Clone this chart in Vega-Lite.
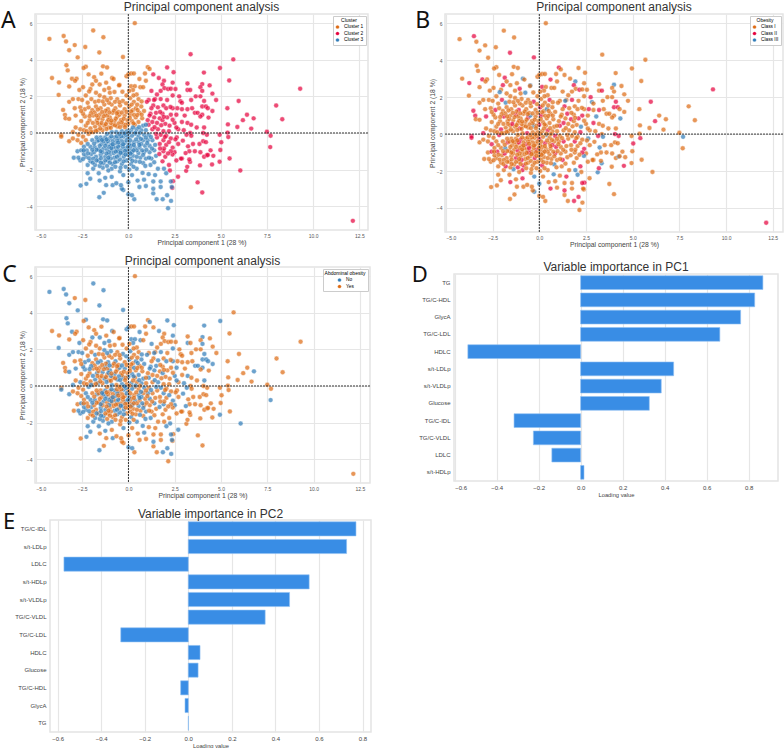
{"$schema":"https://vega.github.io/schema/vega-lite/v6.json","padding":{"left":0,"right":0,"top":0,"bottom":0},"background":"white","config":{"font":"Liberation Sans","style":{"guide-label":{"fontSize":4.8}},"legend":{"labelFontSize":4.8},"view":{"stroke":"#e4e4e4","strokeWidth":1.5},"title":{"font":"Liberation Sans","fontWeight":"normal","color":"#333333","offset":1},"axis":{"domain":false,"ticks":false,"grid":true,"gridColor":"#e6e6e6","gridWidth":1.2,"labelColor":"#555555","titleColor":"#444444","titleFontWeight":"normal","labelFont":"Liberation Sans","titleFont":"Liberation Sans"}},
"datasets":{"pts":[
{"x":0.35,"y":6.0,"c":1,"o":"I","a":"Y"},{"x":-4.27,"y":5.14,"c":1,"o":"I","a":"N"},{"x":-3.5,"y":5.3,"c":1,"o":"II","a":"N"},{"x":-3.37,"y":5.0,"c":1,"o":"I","a":"N"},{"x":-1.9,"y":5.6,"c":1,"o":"I","a":"N"},{"x":-1.35,"y":5.23,"c":1,"o":"I","a":"N"},{"x":-2.9,"y":4.8,"c":1,"o":"I","a":"Y"},{"x":-2.33,"y":4.7,"c":1,"o":"I","a":"Y"},{"x":-3.2,"y":4.52,"c":1,"o":"I","a":"N"},{"x":-1.57,"y":4.4,"c":1,"o":"II","a":"N"},{"x":-2.74,"y":4.13,"c":1,"o":"I","a":"N"},{"x":-0.29,"y":4.15,"c":1,"o":"II","a":"N"},{"x":-3.35,"y":3.7,"c":1,"o":"I","a":"N"},{"x":-3.28,"y":3.42,"c":1,"o":"I","a":"N"},{"x":-2.3,"y":3.62,"c":1,"o":"I","a":"N"},{"x":-2.42,"y":3.55,"c":1,"o":"I","a":"Y"},{"x":-4.13,"y":3.0,"c":1,"o":"I","a":"Y"},{"x":-3.75,"y":2.76,"c":1,"o":"II","a":"Y"},{"x":-3.77,"y":2.08,"c":1,"o":"I","a":"N"},{"x":-3.05,"y":2.96,"c":1,"o":"II","a":"N"},{"x":-2.8,"y":2.96,"c":1,"o":"I","a":"Y"},{"x":-2.88,"y":2.85,"c":1,"o":"I","a":"Y"},{"x":-3.2,"y":2.54,"c":1,"o":"I","a":"Y"},{"x":-1.37,"y":3.64,"c":1,"o":"I","a":"N"},{"x":-1.15,"y":3.58,"c":1,"o":"I","a":"N"},{"x":-1.46,"y":3.24,"c":1,"o":"I","a":"Y"},{"x":-3.53,"y":1.26,"c":1,"o":"II","a":"Y"},{"x":-3.43,"y":0.99,"c":1,"o":"II","a":"Y"},{"x":-3.4,"y":0.8,"c":1,"o":"I","a":"Y"},{"x":-3.2,"y":0.77,"c":1,"o":"I","a":"N"},{"x":-3.63,"y":-0.11,"c":1,"o":"II","a":"Y"},{"x":-3.63,"y":-0.2,"c":1,"o":"II","a":"N"},
{"x":-2.15,"y":3.2,"c":1,"o":"I","a":"Y"},{"x":-1.85,"y":3.05,"c":1,"o":"II","a":"Y"},{"x":-1.75,"y":2.85,"c":1,"o":"I","a":"Y"},{"x":-0.88,"y":3.0,"c":1,"o":"III","a":"N"},{"x":-0.8,"y":2.95,"c":1,"o":"I","a":"Y"},{"x":-1.55,"y":2.65,"c":1,"o":"I","a":"N"},{"x":-1.95,"y":2.65,"c":1,"o":"II","a":"N"},{"x":-2.05,"y":2.4,"c":1,"o":"I","a":"Y"},{"x":-2.12,"y":2.27,"c":1,"o":"III","a":"Y"},{"x":-2.45,"y":2.5,"c":1,"o":"I","a":"Y"},{"x":-2.65,"y":2.35,"c":1,"o":"I","a":"N"},{"x":-1.2,"y":2.75,"c":1,"o":"I","a":"Y"},{"x":-1.05,"y":2.45,"c":1,"o":"II","a":"N"},{"x":-1.0,"y":2.2,"c":1,"o":"I","a":"Y"},{"x":-1.3,"y":2.35,"c":1,"o":"I","a":"N"},{"x":-0.48,"y":2.63,"c":1,"o":"III","a":"Y"},{"x":-0.5,"y":2.6,"c":1,"o":"I","a":"Y"},{"x":-0.1,"y":3.1,"c":1,"o":"I","a":"N"},{"x":0.0,"y":3.2,"c":1,"o":"I","a":"N"},{"x":0.15,"y":3.25,"c":1,"o":"I","a":"Y"},{"x":0.3,"y":3.25,"c":1,"o":"I","a":"Y"},{"x":0.15,"y":2.55,"c":1,"o":"II","a":"N"},{"x":0.35,"y":2.55,"c":1,"o":"I","a":"N"},{"x":0.25,"y":2.35,"c":1,"o":"I","a":"N"},{"x":0.05,"y":2.3,"c":1,"o":"I","a":"Y"},{"x":0.65,"y":2.5,"c":1,"o":"I","a":"N"},{"x":0.8,"y":2.5,"c":1,"o":"I","a":"Y"},{"x":0.6,"y":2.95,"c":1,"o":"II","a":"N"},{"x":0.9,"y":3.25,"c":1,"o":"I","a":"Y"},{"x":1.05,"y":3.6,"c":1,"o":"II","a":"Y"},{"x":1.15,"y":3.5,"c":1,"o":"I","a":"N"},{"x":0.95,"y":2.85,"c":1,"o":"I","a":"Y"},
{"x":-3.2,"y":1.7,"c":1,"o":"I","a":"N"},{"x":-3.0,"y":1.85,"c":1,"o":"I","a":"N"},{"x":-2.7,"y":1.85,"c":1,"o":"I","a":"N"},{"x":-2.5,"y":1.8,"c":1,"o":"I","a":"N"},{"x":-2.3,"y":2.05,"c":1,"o":"I","a":"Y"},{"x":-2.0,"y":1.85,"c":1,"o":"II","a":"Y"},{"x":-1.8,"y":1.7,"c":1,"o":"III","a":"N"},{"x":-1.55,"y":2.05,"c":1,"o":"I","a":"Y"},{"x":-1.3,"y":1.95,"c":1,"o":"I","a":"N"},{"x":-0.75,"y":2.24,"c":1,"o":"III","a":"Y"},{"x":-0.6,"y":1.85,"c":1,"o":"I","a":"Y"},{"x":-0.3,"y":1.75,"c":1,"o":"II","a":"N"},{"x":-0.1,"y":2.05,"c":1,"o":"I","a":"Y"},{"x":0.1,"y":1.9,"c":1,"o":"I","a":"N"},{"x":0.3,"y":1.7,"c":1,"o":"I","a":"Y"},{"x":0.55,"y":1.85,"c":1,"o":"II","a":"Y"},{"x":0.7,"y":1.45,"c":1,"o":"I","a":"N"},{"x":-2.9,"y":1.35,"c":1,"o":"I","a":"Y"},{"x":-2.6,"y":1.4,"c":1,"o":"I","a":"Y"},{"x":-2.35,"y":1.3,"c":1,"o":"II","a":"N"},{"x":-2.15,"y":1.4,"c":1,"o":"I","a":"N"},{"x":-1.95,"y":1.25,"c":1,"o":"I","a":"Y"},{"x":-1.75,"y":1.45,"c":1,"o":"I","a":"Y"},{"x":-1.5,"y":1.35,"c":1,"o":"I","a":"N"},{"x":-1.3,"y":1.55,"c":1,"o":"I","a":"Y"},{"x":-1.1,"y":1.3,"c":1,"o":"II","a":"N"},{"x":-0.9,"y":1.55,"c":1,"o":"I","a":"Y"},{"x":-0.7,"y":1.35,"c":1,"o":"I","a":"N"},{"x":-0.45,"y":1.5,"c":1,"o":"I","a":"Y"},{"x":-0.2,"y":1.3,"c":1,"o":"I","a":"Y"},{"x":0.05,"y":1.45,"c":1,"o":"II","a":"N"},{"x":0.25,"y":1.25,"c":1,"o":"I","a":"Y"},{"x":0.41,"y":1.36,"c":1,"o":"III","a":"N"},{"x":0.6,"y":1.1,"c":1,"o":"I","a":"Y"},{"x":0.85,"y":1.2,"c":1,"o":"I","a":"N"},
{"x":-2.85,"y":0.95,"c":1,"o":"II","a":"N"},{"x":-2.55,"y":0.65,"c":1,"o":"I","a":"Y"},{"x":-2.35,"y":0.9,"c":1,"o":"I","a":"N"},{"x":-2.1,"y":0.7,"c":1,"o":"I","a":"Y"},{"x":-1.9,"y":0.95,"c":1,"o":"II","a":"Y"},{"x":-1.7,"y":0.7,"c":1,"o":"I","a":"N"},{"x":-1.55,"y":1.0,"c":1,"o":"I","a":"Y"},{"x":-1.4,"y":0.75,"c":1,"o":"I","a":"N"},{"x":-1.25,"y":1.05,"c":1,"o":"II","a":"N"},{"x":-1.15,"y":0.6,"c":1,"o":"I","a":"Y"},{"x":-1.0,"y":0.85,"c":1,"o":"I","a":"N"},{"x":-0.85,"y":1.1,"c":1,"o":"I","a":"Y"},{"x":-0.75,"y":0.65,"c":1,"o":"I","a":"N"},{"x":-0.6,"y":0.9,"c":1,"o":"II","a":"Y"},{"x":-0.48,"y":1.0,"c":1,"o":"III","a":"N"},{"x":-0.4,"y":0.7,"c":1,"o":"I","a":"Y"},{"x":-0.3,"y":0.45,"c":1,"o":"III","a":"N"},{"x":-0.2,"y":0.95,"c":1,"o":"I","a":"N"},{"x":-0.05,"y":0.7,"c":1,"o":"I","a":"Y"},{"x":0.1,"y":1.0,"c":1,"o":"II","a":"Y"},{"x":0.2,"y":0.65,"c":1,"o":"I","a":"N"},{"x":0.4,"y":0.85,"c":1,"o":"I","a":"Y"},{"x":0.55,"y":0.6,"c":1,"o":"I","a":"N"},{"x":0.75,"y":0.8,"c":1,"o":"I","a":"Y"},{"x":-1.3,"y":0.4,"c":1,"o":"I","a":"N"},{"x":-1.05,"y":0.3,"c":1,"o":"II","a":"Y"},{"x":-0.85,"y":0.45,"c":1,"o":"I","a":"Y"},{"x":-0.6,"y":0.35,"c":1,"o":"I","a":"N"},{"x":-1.55,"y":0.45,"c":1,"o":"I","a":"Y"},{"x":-1.8,"y":0.35,"c":1,"o":"I","a":"N"},{"x":-2.05,"y":0.25,"c":1,"o":"II","a":"Y"},{"x":-2.3,"y":0.4,"c":1,"o":"I","a":"Y"},{"x":-2.6,"y":0.2,"c":1,"o":"I","a":"N"},{"x":-2.85,"y":0.3,"c":1,"o":"I","a":"Y"},{"x":-3.0,"y":0.05,"c":1,"o":"II","a":"N"},{"x":-2.7,"y":-0.1,"c":1,"o":"I","a":"Y"},{"x":-2.45,"y":-0.2,"c":1,"o":"I","a":"Y"},{"x":-2.15,"y":-0.05,"c":1,"o":"II","a":"N"},{"x":-1.9,"y":0.05,"c":1,"o":"I","a":"Y"},{"x":-1.65,"y":0.15,"c":1,"o":"I","a":"N"},{"x":-1.4,"y":0.15,"c":1,"o":"I","a":"Y"},{"x":-3.2,"y":-0.45,"c":1,"o":"I","a":"N"},{"x":-3.0,"y":-0.3,"c":1,"o":"I","a":"Y"},{"x":-2.75,"y":-0.4,"c":1,"o":"I","a":"Y"},{"x":-2.55,"y":-0.55,"c":1,"o":"II","a":"Y"},{"x":-2.3,"y":-0.4,"c":1,"o":"I","a":"N"},{"x":-0.35,"y":0.6,"c":1,"o":"I","a":"Y"},{"x":0.0,"y":0.5,"c":1,"o":"II","a":"N"},{"x":-1.6,"y":1.75,"c":1,"o":"I","a":"Y"},{"x":-2.2,"y":1.65,"c":1,"o":"I","a":"Y"},{"x":-0.95,"y":1.9,"c":1,"o":"I","a":"N"},{"x":0.45,"y":2.1,"c":1,"o":"I","a":"Y"},{"x":-2.45,"y":1.05,"c":1,"o":"I","a":"N"},{"x":-1.05,"y":1.65,"c":1,"o":"I","a":"Y"},{"x":-0.55,"y":1.15,"c":1,"o":"I","a":"Y"},{"x":0.3,"y":1.0,"c":1,"o":"I","a":"N"},{"x":-1.75,"y":2.2,"c":1,"o":"I","a":"Y"},{"x":-1.45,"y":0.55,"c":1,"o":"II","a":"Y"},{"x":-1.15,"y":0.95,"c":1,"o":"I","a":"Y"},{"x":-0.95,"y":0.55,"c":1,"o":"I","a":"N"},{"x":-0.15,"y":0.45,"c":1,"o":"I","a":"Y"},{"x":0.35,"y":0.45,"c":1,"o":"I","a":"Y"},
{"x":12.15,"y":-4.8,"c":2,"o":"II","a":"Y"},{"x":9.3,"y":2.42,"c":2,"o":"II","a":"Y"},{"x":8.0,"y":1.5,"c":2,"o":"I","a":"Y"},{"x":8.33,"y":0.75,"c":2,"o":"I","a":"Y"},{"x":7.5,"y":0.07,"c":2,"o":"I","a":"Y"},{"x":7.7,"y":-0.15,"c":2,"o":"III","a":"Y"},{"x":7.68,"y":-0.77,"c":2,"o":"I","a":"N"},{"x":6.65,"y":0.24,"c":2,"o":"I","a":"Y"},{"x":6.78,"y":0.8,"c":2,"o":"I","a":"N"},{"x":6.42,"y":1.0,"c":2,"o":"I","a":"Y"},{"x":6.2,"y":0.7,"c":2,"o":"II","a":"Y"},{"x":5.97,"y":1.75,"c":2,"o":"II","a":"Y"},{"x":5.9,"y":0.33,"c":2,"o":"I","a":"Y"},{"x":6.06,"y":-2.05,"c":2,"o":"I","a":"N"},{"x":5.68,"y":4.02,"c":2,"o":"I","a":"Y"},{"x":5.46,"y":2.87,"c":2,"o":"I","a":"Y"},{"x":4.96,"y":3.55,"c":2,"o":"I","a":"N"},{"x":3.37,"y":4.3,"c":2,"o":"I","a":"Y"},{"x":4.09,"y":3.3,"c":2,"o":"I","a":"N"},{"x":4.0,"y":2.67,"c":2,"o":"III","a":"N"},{"x":5.36,"y":1.35,"c":2,"o":"I","a":"Y"},{"x":5.39,"y":0.47,"c":2,"o":"I","a":"Y"},{"x":5.37,"y":0.02,"c":2,"o":"I","a":"Y"},{"x":5.41,"y":-0.22,"c":2,"o":"II","a":"Y"},{"x":4.94,"y":-0.1,"c":2,"o":"I","a":"Y"},{"x":5.03,"y":-0.51,"c":2,"o":"II","a":"Y"},{"x":4.98,"y":-0.93,"c":2,"o":"I","a":"Y"},{"x":5.48,"y":-1.39,"c":2,"o":"I","a":"Y"},{"x":4.94,"y":-1.57,"c":2,"o":"I","a":"N"},{"x":4.53,"y":-1.72,"c":2,"o":"II","a":"Y"},{"x":3.88,"y":-1.77,"c":2,"o":"I","a":"Y"},{"x":4.0,"y":-3.25,"c":2,"o":"I","a":"Y"},{"x":3.75,"y":-2.7,"c":2,"o":"I","a":"Y"},{"x":2.42,"y":-2.63,"c":2,"o":"II","a":"Y"},{"x":2.38,"y":-3.0,"c":2,"o":"I","a":"Y"},{"x":2.69,"y":-2.39,"c":2,"o":"I","a":"N"},{"x":3.13,"y":-2.07,"c":2,"o":"III","a":"Y"},{"x":3.19,"y":-1.85,"c":2,"o":"II","a":"Y"},
{"x":1.35,"y":3.2,"c":2,"o":"I","a":"Y"},{"x":1.65,"y":3.0,"c":2,"o":"I","a":"N"},{"x":2.1,"y":3.58,"c":2,"o":"I","a":"N"},{"x":2.45,"y":3.32,"c":2,"o":"I","a":"N"},{"x":2.4,"y":2.75,"c":2,"o":"I","a":"N"},{"x":1.93,"y":2.85,"c":2,"o":"III","a":"Y"},{"x":1.85,"y":2.65,"c":2,"o":"II","a":"Y"},{"x":1.95,"y":2.45,"c":2,"o":"I","a":"Y"},{"x":1.75,"y":2.3,"c":2,"o":"I","a":"Y"},{"x":2.15,"y":2.4,"c":2,"o":"II","a":"Y"},{"x":2.3,"y":2.42,"c":2,"o":"I","a":"Y"},{"x":2.55,"y":2.4,"c":2,"o":"I","a":"Y"},{"x":2.4,"y":2.05,"c":2,"o":"I","a":"N"},{"x":3.2,"y":2.7,"c":2,"o":"I","a":"Y"},{"x":3.2,"y":2.35,"c":2,"o":"I","a":"N"},{"x":3.35,"y":2.35,"c":2,"o":"II","a":"Y"},{"x":3.9,"y":2.5,"c":2,"o":"I","a":"Y"},{"x":4.4,"y":2.6,"c":2,"o":"I","a":"Y"},{"x":4.55,"y":2.15,"c":2,"o":"I","a":"Y"},{"x":4.0,"y":2.3,"c":2,"o":"I","a":"N"},{"x":3.65,"y":2.0,"c":2,"o":"I","a":"Y"},{"x":3.4,"y":1.8,"c":2,"o":"I","a":"Y"},{"x":3.9,"y":2.0,"c":2,"o":"I","a":"Y"},{"x":4.75,"y":1.8,"c":2,"o":"I","a":"Y"},{"x":4.1,"y":1.75,"c":2,"o":"II","a":"N"},{"x":4.0,"y":1.45,"c":2,"o":"II","a":"N"},{"x":4.2,"y":1.45,"c":2,"o":"II","a":"N"},{"x":4.3,"y":1.35,"c":2,"o":"I","a":"N"},{"x":4.55,"y":1.2,"c":2,"o":"I","a":"N"},{"x":3.6,"y":1.1,"c":2,"o":"I","a":"N"},{"x":3.75,"y":1.1,"c":2,"o":"I","a":"N"},{"x":3.2,"y":1.3,"c":2,"o":"II","a":"Y"},{"x":3.45,"y":1.35,"c":2,"o":"I","a":"Y"},{"x":2.9,"y":1.3,"c":2,"o":"I","a":"Y"},{"x":2.65,"y":1.35,"c":2,"o":"II","a":"Y"},{"x":2.4,"y":1.35,"c":2,"o":"I","a":"N"},{"x":2.82,"y":1.73,"c":2,"o":"III","a":"Y"},{"x":2.9,"y":1.65,"c":2,"o":"I","a":"Y"},{"x":2.1,"y":1.8,"c":2,"o":"I","a":"Y"},{"x":1.75,"y":1.85,"c":2,"o":"II","a":"N"},{"x":1.45,"y":1.85,"c":2,"o":"I","a":"Y"},{"x":1.39,"y":1.8,"c":2,"o":"III","a":"N"},{"x":1.1,"y":1.8,"c":2,"o":"I","a":"Y"},{"x":1.0,"y":1.7,"c":2,"o":"I","a":"N"},{"x":1.35,"y":1.5,"c":2,"o":"II","a":"Y"},{"x":1.6,"y":1.4,"c":2,"o":"I","a":"N"},{"x":1.9,"y":1.5,"c":2,"o":"I","a":"Y"},{"x":2.3,"y":1.0,"c":2,"o":"II","a":"Y"},{"x":2.6,"y":1.0,"c":2,"o":"I","a":"N"},{"x":3.05,"y":0.95,"c":2,"o":"III","a":"Y"},{"x":3.2,"y":0.55,"c":2,"o":"I","a":"N"},{"x":3.4,"y":0.45,"c":2,"o":"I","a":"Y"},{"x":3.7,"y":0.3,"c":2,"o":"I","a":"Y"},{"x":4.1,"y":0.3,"c":2,"o":"I","a":"N"},{"x":4.34,"y":0.84,"c":2,"o":"III","a":"Y"},{"x":4.0,"y":1.0,"c":2,"o":"I","a":"N"},{"x":3.9,"y":0.9,"c":2,"o":"I","a":"Y"},{"x":2.9,"y":0.6,"c":2,"o":"II","a":"Y"},{"x":2.5,"y":0.55,"c":2,"o":"I","a":"N"},{"x":2.23,"y":0.4,"c":2,"o":"III","a":"Y"},{"x":2.0,"y":0.5,"c":2,"o":"I","a":"Y"},{"x":1.7,"y":0.8,"c":2,"o":"II","a":"Y"},{"x":1.4,"y":0.85,"c":2,"o":"I","a":"N"},{"x":1.05,"y":0.7,"c":2,"o":"I","a":"Y"},{"x":1.1,"y":0.45,"c":2,"o":"II","a":"N"},{"x":1.3,"y":0.2,"c":2,"o":"I","a":"Y"},{"x":1.6,"y":0.2,"c":2,"o":"I","a":"N"},{"x":1.9,"y":0.1,"c":2,"o":"I","a":"Y"},{"x":2.2,"y":0.1,"c":2,"o":"II","a":"Y"},{"x":2.7,"y":0.2,"c":2,"o":"I","a":"Y"},{"x":3.0,"y":0.15,"c":2,"o":"I","a":"N"},{"x":3.35,"y":0.0,"c":2,"o":"I","a":"Y"},{"x":3.41,"y":-0.15,"c":2,"o":"III","a":"Y"},{"x":3.15,"y":-0.1,"c":2,"o":"II","a":"N"},{"x":2.62,"y":-0.24,"c":2,"o":"III","a":"Y"},{"x":2.3,"y":-0.3,"c":2,"o":"I","a":"Y"},{"x":1.9,"y":-0.4,"c":2,"o":"II","a":"N"},{"x":1.7,"y":-0.6,"c":2,"o":"I","a":"Y"},{"x":2.05,"y":-0.65,"c":2,"o":"I","a":"Y"},{"x":2.4,"y":-0.8,"c":2,"o":"II","a":"N"},{"x":2.7,"y":-0.6,"c":2,"o":"I","a":"Y"},{"x":3.23,"y":-0.73,"c":2,"o":"III","a":"Y"},{"x":3.5,"y":-0.6,"c":2,"o":"I","a":"Y"},{"x":3.85,"y":-0.6,"c":2,"o":"I","a":"Y"},{"x":4.05,"y":-0.45,"c":2,"o":"I","a":"Y"},{"x":4.2,"y":-0.5,"c":2,"o":"I","a":"Y"},{"x":4.25,"y":-0.1,"c":2,"o":"II","a":"Y"},{"x":4.05,"y":0.0,"c":2,"o":"II","a":"Y"},{"x":3.6,"y":-1.0,"c":2,"o":"I","a":"Y"},{"x":3.3,"y":-1.0,"c":2,"o":"I","a":"Y"},{"x":3.1,"y":-1.1,"c":2,"o":"I","a":"N"},{"x":2.9,"y":-1.4,"c":2,"o":"I","a":"Y"},{"x":2.85,"y":-1.4,"c":2,"o":"I","a":"Y"},{"x":2.5,"y":-1.05,"c":2,"o":"I","a":"N"},{"x":2.39,"y":-1.18,"c":2,"o":"III","a":"Y"},{"x":2.0,"y":-1.3,"c":2,"o":"I","a":"Y"},{"x":1.9,"y":-1.0,"c":2,"o":"I","a":"N"},{"x":2.6,"y":-1.5,"c":2,"o":"I","a":"Y"},{"x":3.34,"y":-1.58,"c":2,"o":"III","a":"Y"},{"x":3.3,"y":-1.45,"c":2,"o":"I","a":"Y"},{"x":3.9,"y":-1.05,"c":2,"o":"I","a":"Y"},{"x":4.1,"y":-1.3,"c":2,"o":"I","a":"Y"},{"x":4.25,"y":-1.22,"c":2,"o":"III","a":"Y"},{"x":4.3,"y":-1.2,"c":2,"o":"I","a":"Y"},{"x":4.45,"y":-0.95,"c":2,"o":"I","a":"Y"},{"x":4.6,"y":-1.25,"c":2,"o":"I","a":"Y"},{"x":2.2,"y":-1.75,"c":2,"o":"II","a":"Y"},{"x":2.25,"y":-2.05,"c":2,"o":"I","a":"N"},{"x":1.5,"y":1.1,"c":2,"o":"II","a":"N"},{"x":1.2,"y":1.05,"c":2,"o":"I","a":"N"},{"x":1.85,"y":1.05,"c":2,"o":"I","a":"Y"},{"x":2.1,"y":0.85,"c":2,"o":"II","a":"Y"},{"x":1.55,"y":0.55,"c":2,"o":"I","a":"Y"},{"x":1.85,"y":0.7,"c":2,"o":"I","a":"N"},{"x":1.3,"y":0.6,"c":2,"o":"II","a":"Y"},{"x":1.75,"y":-0.1,"c":2,"o":"I","a":"N"},{"x":2.05,"y":-0.15,"c":2,"o":"I","a":"Y"},{"x":1.55,"y":-0.25,"c":2,"o":"I","a":"Y"},{"x":2.3,"y":-1.0,"c":2,"o":"II","a":"Y"},{"x":1.93,"y":-0.85,"c":2,"o":"I","a":"Y"},{"x":2.2,"y":-0.5,"c":2,"o":"I","a":"N"},{"x":2.05,"y":1.35,"c":2,"o":"I","a":"N"},{"x":1.55,"y":2.1,"c":2,"o":"I","a":"Y"},{"x":1.25,"y":2.3,"c":2,"o":"I","a":"N"},{"x":2.75,"y":2.0,"c":2,"o":"II","a":"Y"},{"x":2.6,"y":0.3,"c":2,"o":"I","a":"N"},{"x":1.85,"y":-1.55,"c":2,"o":"I","a":"Y"},
{"x":2.15,"y":-4.11,"c":3,"o":"I","a":"Y"},{"x":2.31,"y":-3.71,"c":3,"o":"I","a":"N"},{"x":1.86,"y":-3.62,"c":3,"o":"II","a":"N"},{"x":1.53,"y":-3.62,"c":3,"o":"I","a":"Y"},{"x":0.32,"y":-3.62,"c":3,"o":"I","a":"Y"},{"x":-1.57,"y":-3.51,"c":3,"o":"I","a":"N"},{"x":-1.33,"y":-3.27,"c":3,"o":"I","a":"Y"},{"x":-2.58,"y":-2.87,"c":3,"o":"I","a":"Y"},{"x":-2.27,"y":-2.78,"c":3,"o":"I","a":"N"},{"x":-2.06,"y":-2.5,"c":3,"o":"I","a":"N"},{"x":0.0,"y":-3.35,"c":3,"o":"I","a":"N"},{"x":0.2,"y":-3.4,"c":3,"o":"I","a":"N"},{"x":-0.27,"y":-3.12,"c":3,"o":"III","a":"Y"},{"x":-0.35,"y":-3.05,"c":3,"o":"I","a":"Y"},{"x":1.35,"y":-3.3,"c":3,"o":"I","a":"Y"},{"x":1.35,"y":-3.05,"c":3,"o":"II","a":"N"},{"x":2.1,"y":-3.4,"c":3,"o":"II","a":"N"},{"x":2.35,"y":-2.95,"c":3,"o":"I","a":"N"},{"x":1.75,"y":-2.95,"c":3,"o":"I","a":"Y"},{"x":0.6,"y":-2.95,"c":3,"o":"II","a":"Y"},{"x":0.95,"y":-2.9,"c":3,"o":"I","a":"Y"},{"x":-0.4,"y":-2.85,"c":3,"o":"I","a":"Y"},{"x":-0.85,"y":-2.85,"c":3,"o":"I","a":"N"},{"x":-1.2,"y":-2.85,"c":3,"o":"I","a":"Y"},{"x":-1.55,"y":-2.6,"c":3,"o":"II","a":"Y"},{"x":-1.25,"y":-2.45,"c":3,"o":"I","a":"N"},{"x":-0.65,"y":-2.75,"c":3,"o":"I","a":"Y"},{"x":0.0,"y":-2.69,"c":3,"o":"III","a":"Y"},{"x":0.5,"y":-2.6,"c":3,"o":"I","a":"Y"},{"x":0.85,"y":-2.55,"c":3,"o":"I","a":"N"},{"x":1.35,"y":-2.65,"c":3,"o":"I","a":"Y"},{"x":1.75,"y":-2.65,"c":3,"o":"I","a":"Y"},{"x":2.3,"y":-2.65,"c":3,"o":"II","a":"N"},{"x":-0.27,"y":-2.3,"c":3,"o":"III","a":"N"},{"x":-1.6,"y":-2.2,"c":3,"o":"I","a":"N"},{"x":-2.2,"y":-2.2,"c":3,"o":"I","a":"N"},{"x":-0.9,"y":-2.4,"c":3,"o":"II","a":"Y"},{"x":0.2,"y":-2.3,"c":3,"o":"I","a":"Y"},{"x":0.77,"y":-2.18,"c":3,"o":"III","a":"N"},{"x":1.1,"y":-2.25,"c":3,"o":"I","a":"Y"},{"x":1.45,"y":-2.3,"c":3,"o":"II","a":"Y"},{"x":1.93,"y":-1.95,"c":3,"o":"III","a":"Y"},{"x":2.05,"y":-2.2,"c":3,"o":"III","a":"N"},{"x":1.6,"y":-1.95,"c":3,"o":"I","a":"Y"},{"x":1.2,"y":-1.75,"c":3,"o":"I","a":"N"},{"x":0.8,"y":-1.64,"c":3,"o":"III","a":"Y"},{"x":0.45,"y":-1.95,"c":3,"o":"I","a":"N"},{"x":0.05,"y":-2.0,"c":3,"o":"I","a":"N"},{"x":-0.45,"y":-2.1,"c":3,"o":"I","a":"Y"},{"x":-0.9,"y":-1.95,"c":3,"o":"II","a":"N"},{"x":-1.38,"y":-1.9,"c":3,"o":"III","a":"N"},{"x":-1.9,"y":-1.95,"c":3,"o":"I","a":"N"},{"x":-2.2,"y":-1.75,"c":3,"o":"I","a":"Y"},{"x":-2.6,"y":-1.5,"c":3,"o":"I","a":"N"},{"x":-2.95,"y":-1.35,"c":3,"o":"I","a":"Y"},{"x":-2.7,"y":-1.35,"c":3,"o":"I","a":"N"},{"x":-2.75,"y":-1.0,"c":3,"o":"I","a":"Y"},{"x":-2.55,"y":-0.95,"c":3,"o":"II","a":"N"},{"x":-2.3,"y":-1.3,"c":3,"o":"I","a":"N"},{"x":-2.05,"y":-1.55,"c":3,"o":"I","a":"Y"},{"x":-1.8,"y":-1.75,"c":3,"o":"II","a":"N"},{"x":-1.6,"y":-1.5,"c":3,"o":"I","a":"Y"},{"x":-1.35,"y":-1.65,"c":3,"o":"I","a":"N"},{"x":-1.1,"y":-1.5,"c":3,"o":"I","a":"Y"},{"x":-0.85,"y":-1.7,"c":3,"o":"II","a":"Y"},{"x":-0.6,"y":-1.55,"c":3,"o":"I","a":"N"},{"x":-0.35,"y":-1.7,"c":3,"o":"I","a":"Y"},{"x":-0.1,"y":-1.5,"c":3,"o":"I","a":"Y"},{"x":0.15,"y":-1.7,"c":3,"o":"II","a":"N"},{"x":0.4,"y":-1.55,"c":3,"o":"I","a":"Y"},{"x":0.65,"y":-1.35,"c":3,"o":"I","a":"Y"},{"x":0.95,"y":-1.4,"c":3,"o":"I","a":"N"},{"x":1.25,"y":-1.4,"c":3,"o":"II","a":"Y"},{"x":1.5,"y":-1.25,"c":3,"o":"I","a":"Y"},{"x":1.4,"y":-0.95,"c":3,"o":"I","a":"N"},{"x":1.15,"y":-1.05,"c":3,"o":"I","a":"Y"},{"x":0.85,"y":-1.05,"c":3,"o":"II","a":"Y"},{"x":0.55,"y":-1.1,"c":3,"o":"I","a":"N"},{"x":0.25,"y":-1.25,"c":3,"o":"I","a":"Y"},{"x":0.0,"y":-1.2,"c":3,"o":"I","a":"Y"},{"x":-0.25,"y":-1.3,"c":3,"o":"II","a":"N"},{"x":-0.5,"y":-1.2,"c":3,"o":"I","a":"Y"},{"x":-0.75,"y":-1.35,"c":3,"o":"I","a":"N"},{"x":-1.0,"y":-1.2,"c":3,"o":"I","a":"Y"},{"x":-1.25,"y":-1.3,"c":3,"o":"II","a":"N"},{"x":-1.5,"y":-1.2,"c":3,"o":"I","a":"N"},{"x":-1.75,"y":-1.3,"c":3,"o":"I","a":"Y"},{"x":-2.0,"y":-1.15,"c":3,"o":"I","a":"N"},{"x":-2.25,"y":-0.95,"c":3,"o":"II","a":"Y"},{"x":-2.05,"y":-0.75,"c":3,"o":"I","a":"N"},{"x":-1.82,"y":-0.76,"c":3,"o":"III","a":"N"},{"x":-1.6,"y":-0.9,"c":3,"o":"I","a":"Y"},{"x":-1.35,"y":-0.85,"c":3,"o":"I","a":"N"},{"x":-1.15,"y":-0.9,"c":3,"o":"II","a":"Y"},{"x":-0.9,"y":-0.95,"c":3,"o":"I","a":"Y"},{"x":-0.65,"y":-0.85,"c":3,"o":"I","a":"N"},{"x":-0.4,"y":-0.95,"c":3,"o":"I","a":"Y"},{"x":-0.15,"y":-0.85,"c":3,"o":"II","a":"N"},{"x":0.1,"y":-0.9,"c":3,"o":"I","a":"Y"},{"x":0.35,"y":-0.8,"c":3,"o":"I","a":"N"},{"x":0.6,"y":-0.8,"c":3,"o":"I","a":"Y"},{"x":0.9,"y":-0.7,"c":3,"o":"II","a":"Y"},{"x":1.15,"y":-0.7,"c":3,"o":"I","a":"N"},{"x":1.45,"y":-0.65,"c":3,"o":"I","a":"Y"},{"x":1.3,"y":-0.4,"c":3,"o":"II","a":"Y"},{"x":1.05,"y":-0.4,"c":3,"o":"I","a":"N"},{"x":0.8,"y":-0.4,"c":3,"o":"I","a":"Y"},{"x":0.55,"y":-0.5,"c":3,"o":"I","a":"N"},{"x":0.3,"y":-0.5,"c":3,"o":"II","a":"Y"},{"x":0.05,"y":-0.6,"c":3,"o":"I","a":"N"},{"x":-0.2,"y":-0.55,"c":3,"o":"I","a":"Y"},{"x":-0.45,"y":-0.65,"c":3,"o":"I","a":"Y"},{"x":-0.7,"y":-0.55,"c":3,"o":"II","a":"N"},{"x":-0.95,"y":-0.65,"c":3,"o":"I","a":"Y"},{"x":-1.2,"y":-0.55,"c":3,"o":"I","a":"N"},{"x":-1.45,"y":-0.6,"c":3,"o":"I","a":"Y"},{"x":-1.7,"y":-0.45,"c":3,"o":"II","a":"N"},{"x":-1.95,"y":-0.4,"c":3,"o":"I","a":"Y"},{"x":-1.5,"y":-0.25,"c":3,"o":"I","a":"Y"},{"x":-1.25,"y":-0.25,"c":3,"o":"I","a":"N"},{"x":-1.0,"y":-0.3,"c":3,"o":"II","a":"Y"},{"x":-0.75,"y":-0.25,"c":3,"o":"I","a":"N"},{"x":-0.5,"y":-0.3,"c":3,"o":"I","a":"Y"},{"x":-0.25,"y":-0.2,"c":3,"o":"I","a":"N"},{"x":0.0,"y":-0.25,"c":3,"o":"II","a":"Y"},{"x":0.38,"y":-0.05,"c":3,"o":"III","a":"Y"},{"x":0.2,"y":-0.15,"c":3,"o":"I","a":"N"},{"x":0.55,"y":-0.2,"c":3,"o":"I","a":"Y"},{"x":0.85,"y":-0.1,"c":3,"o":"II","a":"N"},{"x":1.1,"y":-0.1,"c":3,"o":"I","a":"Y"},{"x":0.95,"y":0.15,"c":3,"o":"I","a":"Y"},{"x":0.7,"y":0.15,"c":3,"o":"I","a":"N"},{"x":0.45,"y":0.2,"c":3,"o":"II","a":"Y"},{"x":0.15,"y":0.15,"c":3,"o":"I","a":"N"},{"x":-0.1,"y":0.1,"c":3,"o":"I","a":"Y"},{"x":-0.35,"y":0.1,"c":3,"o":"I","a":"N"},{"x":-0.65,"y":0.05,"c":3,"o":"II","a":"Y"},{"x":-0.9,"y":0.05,"c":3,"o":"I","a":"N"},{"x":-1.15,"y":-0.05,"c":3,"o":"I","a":"Y"},{"x":0.8,"y":0.4,"c":3,"o":"I","a":"N"},{"x":0.95,"y":0.45,"c":3,"o":"I","a":"Y"},
{"x":-2.4,"y":-0.75,"c":3,"o":"I","a":"Y"},{"x":-1.85,"y":-1.05,"c":3,"o":"II","a":"Y"},{"x":-1.4,"y":-1.05,"c":3,"o":"I","a":"Y"},{"x":-1.05,"y":-0.75,"c":3,"o":"I","a":"N"},{"x":-0.8,"y":-1.1,"c":3,"o":"I","a":"Y"},{"x":-0.55,"y":-1.0,"c":3,"o":"II","a":"Y"},{"x":-0.3,"y":-1.1,"c":3,"o":"I","a":"N"},{"x":-0.05,"y":-1.0,"c":3,"o":"I","a":"Y"},{"x":0.2,"y":-1.05,"c":3,"o":"I","a":"N"},{"x":0.45,"y":-0.95,"c":3,"o":"I","a":"Y"},{"x":0.7,"y":-0.6,"c":3,"o":"II","a":"N"},{"x":0.15,"y":-0.7,"c":3,"o":"I","a":"Y"},{"x":-0.1,"y":-0.4,"c":3,"o":"I","a":"N"},{"x":-0.35,"y":-0.45,"c":3,"o":"I","a":"Y"},{"x":-0.6,"y":-0.4,"c":3,"o":"I","a":"N"},{"x":-0.85,"y":-0.45,"c":3,"o":"I","a":"Y"},{"x":-1.1,"y":-0.45,"c":3,"o":"II","a":"Y"},{"x":-1.35,"y":-0.45,"c":3,"o":"I","a":"N"},{"x":-1.55,"y":-0.7,"c":3,"o":"I","a":"Y"},{"x":-1.25,"y":-0.7,"c":3,"o":"I","a":"N"},{"x":-0.8,"y":-0.75,"c":3,"o":"I","a":"Y"},{"x":-0.55,"y":-0.75,"c":3,"o":"II","a":"N"},{"x":-0.3,"y":-0.75,"c":3,"o":"I","a":"Y"},{"x":-1.05,"y":-1.05,"c":3,"o":"I","a":"N"},{"x":-1.25,"y":-1.5,"c":3,"o":"I","a":"Y"},{"x":-0.95,"y":-1.4,"c":3,"o":"II","a":"Y"},{"x":-0.45,"y":-1.45,"c":3,"o":"I","a":"N"},{"x":0.1,"y":-1.4,"c":3,"o":"I","a":"Y"},{"x":0.45,"y":-1.3,"c":3,"o":"I","a":"Y"},{"x":0.8,"y":-1.2,"c":3,"o":"I","a":"N"},{"x":-0.7,"y":-1.85,"c":3,"o":"I","a":"Y"},{"x":-0.15,"y":-1.85,"c":3,"o":"I","a":"Y"},{"x":-1.15,"y":-1.8,"c":3,"o":"II","a":"Y"},{"x":-1.55,"y":-1.8,"c":3,"o":"I","a":"N"},{"x":-2.4,"y":-1.15,"c":3,"o":"I","a":"N"},
{"x":-1.62,"y":0.82,"c":1,"o":"I","a":"Y"},{"x":-1.33,"y":0.92,"c":1,"o":"I","a":"Y"},{"x":-1.08,"y":0.72,"c":1,"o":"I","a":"N"},{"x":-0.92,"y":0.68,"c":1,"o":"I","a":"Y"},{"x":-0.68,"y":0.78,"c":1,"o":"I","a":"Y"},{"x":-0.52,"y":0.52,"c":1,"o":"I","a":"N"},{"x":-0.25,"y":0.78,"c":1,"o":"I","a":"Y"},{"x":0.08,"y":0.82,"c":1,"o":"I","a":"Y"},{"x":0.28,"y":0.52,"c":1,"o":"I","a":"N"},{"x":0.48,"y":0.98,"c":1,"o":"I","a":"Y"},{"x":-1.22,"y":1.22,"c":1,"o":"I","a":"Y"},{"x":-1.02,"y":1.12,"c":1,"o":"I","a":"N"},{"x":-0.78,"y":1.22,"c":1,"o":"I","a":"Y"},{"x":-0.62,"y":1.08,"c":1,"o":"I","a":"Y"},{"x":-0.35,"y":1.12,"c":1,"o":"I","a":"N"},{"x":-0.1,"y":1.15,"c":1,"o":"I","a":"Y"},{"x":0.15,"y":1.18,"c":1,"o":"I","a":"Y"},{"x":0.5,"y":1.25,"c":1,"o":"I","a":"N"},{"x":0.72,"y":1.0,"c":1,"o":"I","a":"Y"},{"x":-1.82,"y":1.12,"c":1,"o":"I","a":"Y"},{"x":-2.02,"y":1.08,"c":1,"o":"I","a":"N"},{"x":-1.68,"y":0.55,"c":1,"o":"I","a":"Y"},{"x":-1.22,"y":0.48,"c":1,"o":"I","a":"Y"},{"x":-1.92,"y":0.55,"c":1,"o":"I","a":"N"},{"x":-2.2,"y":0.55,"c":1,"o":"I","a":"Y"},{"x":-2.4,"y":0.15,"c":1,"o":"I","a":"Y"},{"x":-2.25,"y":0.1,"c":1,"o":"I","a":"Y"},{"x":-2.02,"y":0.05,"c":1,"o":"I","a":"N"},{"x":-1.75,"y":0.12,"c":1,"o":"I","a":"Y"},{"x":-1.52,"y":0.25,"c":1,"o":"I","a":"Y"},{"x":-1.18,"y":0.22,"c":1,"o":"I","a":"N"},{"x":-0.95,"y":0.28,"c":1,"o":"I","a":"Y"},{"x":-0.72,"y":0.42,"c":1,"o":"I","a":"Y"},{"x":-0.45,"y":0.32,"c":1,"o":"I","a":"N"},{"x":-0.18,"y":0.32,"c":1,"o":"I","a":"Y"},{"x":-1.42,"y":1.15,"c":1,"o":"I","a":"Y"},{"x":-1.65,"y":1.28,"c":1,"o":"I","a":"N"},{"x":-1.38,"y":1.72,"c":1,"o":"I","a":"Y"},{"x":-1.15,"y":1.8,"c":1,"o":"I","a":"N"},{"x":-0.72,"y":1.7,"c":1,"o":"I","a":"Y"},{"x":-0.48,"y":1.68,"c":1,"o":"I","a":"Y"},{"x":-0.12,"y":1.62,"c":1,"o":"I","a":"N"},{"x":0.18,"y":1.55,"c":1,"o":"I","a":"Y"},{"x":0.48,"y":1.55,"c":1,"o":"I","a":"Y"},{"x":0.72,"y":1.72,"c":1,"o":"I","a":"N"},{"x":-0.32,"y":2.25,"c":1,"o":"I","a":"Y"},{"x":0.28,"y":2.05,"c":1,"o":"I","a":"Y"},{"x":-2.55,"y":1.2,"c":1,"o":"I","a":"Y"},{"x":-2.1,"y":0.92,"c":1,"o":"I","a":"N"},{"x":-1.72,"y":0.95,"c":1,"o":"I","a":"Y"},
{"x":-0.92,"y":-0.18,"c":3,"o":"I","a":"N"},{"x":-0.62,"y":-0.18,"c":3,"o":"I","a":"Y"},{"x":-0.38,"y":-0.18,"c":3,"o":"I","a":"Y"},{"x":-0.12,"y":-0.1,"c":3,"o":"I","a":"N"},{"x":0.1,"y":-0.4,"c":3,"o":"I","a":"Y"},{"x":0.42,"y":-0.35,"c":3,"o":"I","a":"Y"},{"x":0.68,"y":-0.32,"c":3,"o":"I","a":"N"},{"x":0.95,"y":-0.25,"c":3,"o":"I","a":"Y"},{"x":1.22,"y":-0.22,"c":3,"o":"I","a":"N"},{"x":1.02,"y":-0.55,"c":3,"o":"I","a":"Y"},{"x":0.75,"y":-0.95,"c":3,"o":"I","a":"N"},{"x":0.98,"y":-0.92,"c":3,"o":"I","a":"Y"},{"x":1.28,"y":-0.85,"c":3,"o":"I","a":"Y"},{"x":0.6,"y":-0.65,"c":3,"o":"I","a":"N"},{"x":0.3,"y":-0.65,"c":3,"o":"I","a":"Y"},{"x":-0.02,"y":-0.75,"c":3,"o":"I","a":"N"},{"x":0.28,"y":-0.95,"c":3,"o":"I","a":"Y"},{"x":-0.18,"y":-0.98,"c":3,"o":"I","a":"Y"},{"x":-0.42,"y":-1.08,"c":3,"o":"I","a":"N"},{"x":-0.68,"y":-1.02,"c":3,"o":"I","a":"Y"},{"x":-0.92,"y":-0.82,"c":3,"o":"I","a":"N"},{"x":-1.18,"y":-1.12,"c":3,"o":"I","a":"Y"},{"x":-1.5,"y":-1.0,"c":3,"o":"I","a":"N"},{"x":-1.72,"y":-0.92,"c":3,"o":"I","a":"Y"},{"x":-1.95,"y":-0.92,"c":3,"o":"I","a":"N"},{"x":-2.18,"y":-1.12,"c":3,"o":"I","a":"Y"},{"x":-2.12,"y":-1.38,"c":3,"o":"I","a":"N"},{"x":-1.9,"y":-1.4,"c":3,"o":"I","a":"Y"},{"x":-1.48,"y":-1.38,"c":3,"o":"I","a":"N"},{"x":-1.08,"y":-1.35,"c":3,"o":"I","a":"Y"},{"x":-0.62,"y":-1.3,"c":3,"o":"I","a":"N"},{"x":-0.15,"y":-1.18,"c":3,"o":"I","a":"Y"},{"x":0.12,"y":-1.12,"c":3,"o":"I","a":"Y"},{"x":0.62,"y":-1.58,"c":3,"o":"I","a":"N"},{"x":0.22,"y":-1.52,"c":3,"o":"I","a":"Y"},{"x":-0.25,"y":-1.55,"c":3,"o":"I","a":"N"},{"x":-0.72,"y":-1.6,"c":3,"o":"I","a":"Y"},{"x":-1.0,"y":-1.62,"c":3,"o":"I","a":"Y"},{"x":-1.48,"y":-1.62,"c":3,"o":"I","a":"N"},{"x":-1.92,"y":-1.62,"c":3,"o":"I","a":"Y"},{"x":-1.72,"y":-1.5,"c":3,"o":"I","a":"N"},{"x":-2.45,"y":-1.42,"c":3,"o":"I","a":"N"},{"x":-2.42,"y":-0.95,"c":3,"o":"I","a":"Y"},{"x":-2.2,"y":-0.6,"c":3,"o":"I","a":"N"},{"x":-1.85,"y":-0.58,"c":3,"o":"I","a":"Y"},{"x":-1.6,"y":-0.4,"c":3,"o":"I","a":"Y"},{"x":-1.42,"y":-0.38,"c":3,"o":"I","a":"N"},{"x":-1.72,"y":-0.25,"c":3,"o":"I","a":"Y"},{"x":-1.18,"y":-0.35,"c":3,"o":"I","a":"Y"},{"x":-0.85,"y":-0.62,"c":3,"o":"I","a":"N"},{"x":-0.55,"y":-0.52,"c":3,"o":"I","a":"Y"},{"x":-0.28,"y":-0.62,"c":3,"o":"I","a":"Y"},{"x":0.38,"y":0.02,"c":3,"o":"I","a":"N"},{"x":0.62,"y":0.0,"c":3,"o":"I","a":"Y"},{"x":0.05,"y":0.02,"c":3,"o":"I","a":"Y"},{"x":-0.22,"y":-0.02,"c":3,"o":"I","a":"N"},{"x":-0.48,"y":-0.05,"c":3,"o":"I","a":"Y"},{"x":0.25,"y":0.3,"c":3,"o":"I","a":"Y"},{"x":0.58,"y":0.32,"c":3,"o":"I","a":"N"},{"x":1.12,"y":-1.35,"c":3,"o":"I","a":"Y"},{"x":1.4,"y":-1.6,"c":3,"o":"I","a":"Y"},{"x":0.92,"y":-1.8,"c":3,"o":"I","a":"N"},{"x":0.28,"y":-1.85,"c":3,"o":"I","a":"Y"},{"x":-0.42,"y":-1.9,"c":3,"o":"I","a":"Y"},{"x":-1.08,"y":-2.05,"c":3,"o":"I","a":"N"},
{"x":1.25,"y":1.35,"c":2,"o":"I","a":"Y"},{"x":1.72,"y":1.15,"c":2,"o":"I","a":"Y"},{"x":1.15,"y":0.95,"c":2,"o":"I","a":"N"},{"x":1.92,"y":0.88,"c":2,"o":"I","a":"Y"},{"x":2.28,"y":1.42,"c":2,"o":"I","a":"Y"},{"x":1.42,"y":0.32,"c":2,"o":"I","a":"N"},{"x":1.78,"y":0.42,"c":2,"o":"I","a":"Y"},{"x":2.4,"y":0.72,"c":2,"o":"I","a":"Y"},{"x":1.5,"y":-0.05,"c":2,"o":"I","a":"N"},{"x":1.98,"y":-0.22,"c":2,"o":"I","a":"Y"},{"x":1.72,"y":-0.85,"c":2,"o":"I","a":"Y"},{"x":1.68,"y":-1.15,"c":2,"o":"I","a":"N"},{"x":2.15,"y":-1.12,"c":2,"o":"I","a":"Y"},{"x":2.55,"y":-0.35,"c":2,"o":"I","a":"Y"},{"x":2.95,"y":-0.42,"c":2,"o":"I","a":"N"}
]},
"resolve":{"scale":{"color":"independent","x":"independent","y":"independent"}},"bounds":"flush","spacing":410,
"hconcat":[
{"vconcat":[
{"title":{"text":"Principal component analysis","fontSize":12,"offset":-4},"width":333,"height":216,"layer":[
{"data":{"name":"pts"},"mark":{"type":"point","filled":true,"size":24,"opacity":0.7,"stroke":"white","strokeWidth":0.4},"encoding":{"x":{"field":"x","type":"quantitative","scale":{"domain":[-5.05,12.97],"nice":false,"zero":false},"axis":{"values":[-5,-2.5,0,2.5,5,7.5,10,12.5],"format":".1f","labelFontSize":5,"labelPadding":3,"title":"Principal component 1 (28 %)","titleFontSize":6.8,"titlePadding":1}},"y":{"field":"y","type":"quantitative","scale":{"domain":[-5.3,6.5],"nice":false,"zero":false},"axis":{"values":[-4,-2,0,2,4,6],"format":"d","labelFontSize":5,"labelPadding":3,"title":"Principal component 2 (18 %)","titleFontSize":6.8,"titlePadding":1}},"color":{"field":"c","type":"nominal","scale":{"domain":[1,2,3],"range":["#DE6A12","#E6003C","#2E7BB8"]},"legend":{"title":"Cluster","orient":"top-right","offset":2,"padding":2,"titleFontSize":5,"titleFontWeight":"normal","titleAnchor":"middle","labelFontSize":4.8,"symbolSize":14,"symbolOpacity":1,"symbolStrokeWidth":0.3,"symbolStrokeColor":"white","rowPadding":0.5,"titlePadding":1.5,"labelExpr":"'Cluster '+datum.label","strokeColor":"#cccccc","fillColor":"white"}}}},
{"data":{"values":[{"v":0}]},"mark":{"type":"rule","color":"#222222","strokeWidth":0.9,"strokeDash":[2,1]},"encoding":{"y":{"field":"v","type":"quantitative"}}},
{"data":{"values":[{"v":0}]},"mark":{"type":"rule","color":"#222222","strokeWidth":0.9,"strokeDash":[2,1]},"encoding":{"x":{"field":"v","type":"quantitative"}}},
{"data":{"values":[{"px":-6.09,"py":6.13,"t":"A"}]},"mark":{"type":"text","fontSize":23,"font":"Noto Sans","align":"right","color":"#111111"},"encoding":{"x":{"field":"px","type":"quantitative"},"y":{"field":"py","type":"quantitative"},"text":{"field":"t"}}}
]},
{"title":{"text":"Principal component analysis","fontSize":12,"offset":-4},"width":335,"height":216,"layer":[
{"data":{"name":"pts"},"mark":{"type":"point","filled":true,"size":24,"opacity":0.7,"stroke":"white","strokeWidth":0.4},"encoding":{"x":{"field":"x","type":"quantitative","scale":{"domain":[-5.05,13.05],"nice":false,"zero":false},"axis":{"values":[-5,-2.5,0,2.5,5,7.5,10,12.5],"format":".1f","labelFontSize":5,"labelPadding":3,"title":"Principal component 1 (28 %)","titleFontSize":6.8,"titlePadding":1}},"y":{"field":"y","type":"quantitative","scale":{"domain":[-5.3,6.5],"nice":false,"zero":false},"axis":{"values":[-4,-2,0,2,4,6],"format":"d","labelFontSize":5,"labelPadding":3,"title":"Principal component 2 (18 %)","titleFontSize":6.8,"titlePadding":1}},"color":{"field":"a","type":"nominal","scale":{"domain":["N","Y"],"range":["#2E7BB8","#DE6A12"]},"legend":{"title":"Abdominal obesity","orient":"top-right","offset":2,"padding":2,"titleFontSize":5,"titleFontWeight":"normal","titleAnchor":"middle","labelFontSize":4.8,"symbolSize":14,"symbolOpacity":1,"symbolStrokeWidth":0.3,"symbolStrokeColor":"white","rowPadding":0.5,"titlePadding":1.5,"labelExpr":"datum.label=='Y'?'Yes':'No'","strokeColor":"#cccccc","fillColor":"white"}}}},
{"data":{"values":[{"v":0}]},"mark":{"type":"rule","color":"#222222","strokeWidth":0.9,"strokeDash":[2,1]},"encoding":{"y":{"field":"v","type":"quantitative"}}},
{"data":{"values":[{"v":0}]},"mark":{"type":"rule","color":"#222222","strokeWidth":0.9,"strokeDash":[2,1]},"encoding":{"x":{"field":"v","type":"quantitative"}}},
{"data":{"values":[{"px":-6.04,"py":6.09,"t":"C"}]},"mark":{"type":"text","fontSize":23,"font":"Noto Sans","align":"right","color":"#111111"},"encoding":{"x":{"field":"px","type":"quantitative"},"y":{"field":"py","type":"quantitative"},"text":{"field":"t"}}}
]},
{"hconcat":[
{"data":{"values":[{"v":0}]},"mark":{"type":"point","opacity":0},"width":15,"height":1,"view":{"stroke":null},"encoding":{}},
{"title":{"text":"Variable importance in PC2","fontSize":12,"offset":-10},"width":321,"height":212,"layer":[
{"data":{"values":[{"n":"TG/C-IDL","v":0.77},{"n":"s/t-LDLp","v":0.727},{"n":"LDLC","v":-0.571},{"n":"s/t-HDLp","v":0.555},{"n":"s/t-VLDLp","v":0.465},{"n":"TG/C-VLDL","v":0.353},{"n":"TG/C-LDL","v":-0.31},{"n":"HDLC","v":0.054},{"n":"Glucose","v":0.045},{"n":"TG/C-HDL","v":-0.035},{"n":"GlycA","v":-0.015},{"n":"TG","v":0.001}]},"mark":{"type":"bar","color":"#398DE5","stroke":"#8ec0f2","strokeWidth":0.6},"encoding":{"x":{"field":"v","type":"quantitative","scale":{"domain":[-0.635,0.839],"nice":false,"zero":false},"axis":{"values":[-0.6,-0.4,-0.2,0,0.2,0.4,0.6,0.8],"format":".1f","labelFontSize":6,"labelColor":"#444444","labelPadding":3,"title":"Loading value","titleFontSize":5.8,"titlePadding":1}},"y":{"field":"n","type":"nominal","sort":null,"scale":{"paddingInner":0.2,"paddingOuter":0.1},"axis":{"title":null,"grid":false,"labelFontSize":6,"labelColor":"#444444","labelPadding":4}}}},
{"data":{"values":[{"px":-0.795,"n":"TG/C-IDL","t":"E"}]},"mark":{"type":"text","fontSize":22,"font":"Noto Sans","align":"right","color":"#111111","dy":-7},"encoding":{"x":{"field":"px","type":"quantitative"},"y":{"field":"n","type":"nominal","sort":null},"text":{"field":"t"}}}
]}],"spacing":0,"bounds":"flush"}
],"spacing":37,"bounds":"flush","resolve":{"scale":{"color":"independent","x":"independent","y":"independent"}}},
{"vconcat":[
{"title":{"text":"Principal component analysis","fontSize":12,"offset":-4},"width":338,"height":218,"layer":[
{"data":{"name":"pts"},"mark":{"type":"point","filled":true,"size":24,"opacity":0.7,"stroke":"white","strokeWidth":0.4},"encoding":{"x":{"field":"x","type":"quantitative","scale":{"domain":[-5.05,13.05],"nice":false,"zero":false},"axis":{"values":[-5,-2.5,0,2.5,5,7.5,10,12.5],"format":".1f","labelFontSize":5,"labelPadding":3,"title":"Principal component 1 (28 %)","titleFontSize":6.8,"titlePadding":1}},"y":{"field":"y","type":"quantitative","scale":{"domain":[-5.3,6.5],"nice":false,"zero":false},"axis":{"values":[-4,-2,0,2,4,6],"format":"d","labelFontSize":5,"labelPadding":3,"title":"Principal component 2 (18 %)","titleFontSize":6.8,"titlePadding":1}},"color":{"field":"o","type":"nominal","scale":{"domain":["I","II","III"],"range":["#DE6A12","#E6003C","#2E7BB8"]},"legend":{"title":"Obesity","orient":"top-right","offset":2,"padding":2,"titleFontSize":5,"titleFontWeight":"normal","titleAnchor":"middle","labelFontSize":4.8,"symbolSize":14,"symbolOpacity":1,"symbolStrokeWidth":0.3,"symbolStrokeColor":"white","rowPadding":0.5,"titlePadding":1.5,"labelExpr":"'Class '+datum.label","strokeColor":"#cccccc","fillColor":"white"}}}},
{"data":{"values":[{"v":0}]},"mark":{"type":"rule","color":"#222222","strokeWidth":0.9,"strokeDash":[2,1]},"encoding":{"y":{"field":"v","type":"quantitative"}}},
{"data":{"values":[{"v":0}]},"mark":{"type":"rule","color":"#222222","strokeWidth":0.9,"strokeDash":[2,1]},"encoding":{"x":{"field":"v","type":"quantitative"}}},
{"data":{"values":[{"px":-6.64,"py":6.1,"t":"B"}]},"mark":{"type":"text","fontSize":23,"font":"Noto Sans","align":"left","color":"#111111"},"encoding":{"x":{"field":"px","type":"quantitative"},"y":{"field":"py","type":"quantitative"},"text":{"field":"t"}}}
]},
{"hconcat":[
{"data":{"values":[{"v":0}]},"mark":{"type":"point","opacity":0},"width":9,"height":1,"view":{"stroke":null},"encoding":{}},
{"title":{"text":"Variable importance in PC1","fontSize":12,"offset":-10},"width":324,"height":207,"layer":[
{"data":{"values":[{"n":"TG","v":0.868},{"n":"TG/C-HDL","v":0.829},{"n":"GlycA","v":0.762},{"n":"TG/C-LDL","v":0.663},{"n":"HDLC","v":-0.537},{"n":"s/t-LDLp","v":0.443},{"n":"s/t-VLDLp","v":0.384},{"n":"Glucose","v":0.327},{"n":"TG/C-IDL","v":-0.317},{"n":"TG/C-VLDL","v":-0.225},{"n":"LDLC","v":-0.137},{"n":"s/t-HDLp","v":0.016}]},"mark":{"type":"bar","color":"#398DE5","stroke":"#8ec0f2","strokeWidth":0.6},"encoding":{"x":{"field":"v","type":"quantitative","scale":{"domain":[-0.603,0.94],"nice":false,"zero":false},"axis":{"values":[-0.6,-0.4,-0.2,0,0.2,0.4,0.6,0.8],"format":".1f","labelFontSize":6,"labelColor":"#444444","labelPadding":3,"title":"Loading value","titleFontSize":5.8,"titlePadding":1}},"y":{"field":"n","type":"nominal","sort":null,"scale":{"paddingInner":0.2,"paddingOuter":0.1},"axis":{"title":null,"grid":false,"labelFontSize":6,"labelColor":"#444444","labelPadding":4}}}},
{"data":{"values":[{"px":-0.728,"n":"TG","t":"D"}]},"mark":{"type":"text","fontSize":22,"font":"Noto Sans","align":"right","color":"#111111","dy":-8},"encoding":{"x":{"field":"px","type":"quantitative"},"y":{"field":"n","type":"nominal","sort":null},"text":{"field":"t"}}}
]}],"spacing":0,"bounds":"flush"}
],"spacing":42,"bounds":"flush","resolve":{"scale":{"color":"independent","x":"independent","y":"independent"}}}
]}
